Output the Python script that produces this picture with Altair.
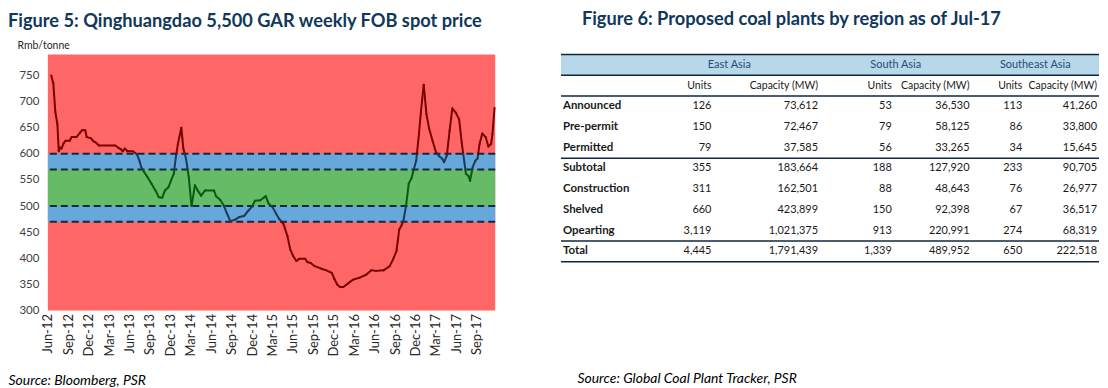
import json
import altair as alt
import pandas as pd

# ---------------- Figure 5 data ----------------
# x: months since Jun-2012 (weekly series sampled), y: Rmb/tonne
months = [0.5, 0.8, 1.1, 1.4, 1.6, 1.8, 2.0, 2.3, 2.6, 3.2, 3.5, 4.2, 4.7, 5.0, 5.5, 5.7,
          6.3, 6.7, 7.0, 7.5, 9.9, 10.3, 10.7, 11.0, 11.3, 11.7, 12.5, 13.1, 13.5, 13.7,
          14.1, 14.6, 15.2, 15.8, 16.3, 16.8, 17.2, 17.7, 18.1, 18.5, 18.8, 19.1, 19.6,
          19.9, 20.3, 20.7, 21.1, 21.6, 22.0, 22.5, 23.1, 24.4, 24.7, 25.3, 25.8, 26.3,
          26.8, 27.5, 28.1, 28.8, 29.5, 30.0, 30.4, 31.2, 31.7, 32.0, 32.4, 33.0, 33.5,
          34.0, 34.6, 35.2, 35.6, 36.0, 36.5, 36.9, 37.8, 38.1, 38.6, 39.2, 40.2, 40.9,
          41.7, 42.1, 42.5, 42.9, 43.4, 44.1, 44.8, 45.8, 46.8, 47.5, 48.2, 49.3, 50.2,
          50.7, 51.2, 51.6, 51.9, 52.2, 52.6, 53.0, 53.4, 53.7, 54.1, 54.5, 54.8, 55.2,
          55.6, 56.0, 56.5, 57.0, 57.5, 57.9, 58.2, 58.6, 59.0, 59.4, 59.9, 60.4, 60.8,
          61.0, 61.4, 61.8, 62.0, 62.4, 62.8, 63.1, 63.4, 63.8, 64.3, 64.7, 65.1, 65.3, 65.6]
price = [750, 735, 680, 657, 605, 612, 610, 620, 625, 625, 632, 632, 640, 645, 645, 632,
         630, 624, 622, 616, 616, 612, 609, 605, 610, 605, 605, 599, 585, 575,
         566, 556, 543, 530, 517, 516, 530, 536, 549, 562, 594, 619, 650,
         610, 590, 555, 500, 540, 530, 520, 530, 530, 519, 512, 502, 486,
         471, 474, 479, 481, 492, 499, 510, 511, 516, 519, 505, 498, 486,
         475, 466, 442, 417, 405, 395, 399, 399, 393, 391, 385, 380, 377,
         372, 360, 350, 345, 345, 352, 359, 363, 369, 377, 376, 377, 385,
         398, 414, 455, 462, 471, 500, 543, 553, 568, 587, 638, 682, 732,
         676, 648, 625, 603, 595, 591, 584, 597, 644, 687, 679, 666, 619,
         600, 562, 557, 548, 575, 587, 591, 619, 639, 632, 614, 619, 638, 688]

x_tick_labels = ["Jun-12", "Sep-12", "Dec-12", "Mar-13", "Jun-13", "Sep-13", "Dec-13",
                 "Mar-14", "Jun-14", "Sep-14", "Dec-14", "Mar-15", "Jun-15", "Sep-15",
                 "Dec-15", "Mar-16", "Jun-16", "Sep-16", "Dec-16", "Mar-17", "Jun-17", "Sep-17"]
y_ticks = [300, 350, 400, 450, 500, 550, 600, 650, 700, 750]

band_low = [300, 470, 500, 570]
band_high = [790, 500, 570, 600]
band_zone = ["outside", "edge", "core", "edge"]
thresholds = [470, 500, 570, 600]

# ---------------- Figure 6 data ----------------
regions = ["East Asia", "South Asia", "Southeast Asia"]
sub_headers = ["Units", "Capacity (MW)"]
row_labels = ["Announced", "Pre-permit", "Permitted", "Subtotal", "Construction",
              "Shelved", "Opearting", "Total"]
ea_units = [126, 150, 79, 355, 311, 660, 3119, 4445]
ea_cap = [73612, 72467, 37585, 183664, 162501, 423899, 1021375, 1791439]
sa_units = [53, 79, 56, 188, 88, 150, 913, 1339]
sa_cap = [36530, 58125, 33265, 127920, 48643, 92398, 220991, 489952]
sea_units = [113, 86, 34, 233, 76, 67, 274, 650]
sea_cap = [41260, 33800, 15645, 90705, 26977, 36517, 68319, 222518]
section_ends = ["Permitted", "Opearting", "Total"]

FONT = "Lato"
NAVY = "#10375C"

# ================= Figure 5 =================
def zone(v):
    if 500 <= v <= 570:
        return "core"
    if 470 <= v <= 600:
        return "edge"
    return "outside"

seg_rows = []
pts_all = list(zip(months, price))
for (m0, v0), (m1, v1) in zip(pts_all, pts_all[1:]):
    lo, hi = min(v0, v1), max(v0, v1)
    cuts = sorted([t for t in thresholds if lo < t < hi], reverse=(v1 < v0))
    pts = [(m0, v0)] + [(m0 + (t - v0) / (v1 - v0) * (m1 - m0), t) for t in cuts] + [(m1, v1)]
    for a, b in zip(pts, pts[1:]):
        seg_rows.append(dict(m=a[0], v=a[1], m2=b[0], v2=b[1], zone=zone((a[1] + b[1]) / 2)))
seg_df = pd.DataFrame(seg_rows)
band_df = pd.DataFrame(dict(lo=band_low, hi=band_high, zone=band_zone))
thr_df = pd.DataFrame(dict(t=thresholds))

xs = alt.Scale(domain=[0, 65.7], nice=False, zero=False)
ys = alt.Scale(domain=[300, 790], nice=False, zero=False)

x_axis = alt.Axis(
    values=list(range(0, 3 * len(x_tick_labels), 3)),
    labelExpr=f"{json.dumps(x_tick_labels)}[round(datum.value / 3)]",
    labelAngle=-90, labelFontSize=13, labelFont=FONT, labelColor="#262626",
    labelPadding=3, ticks=False, domain=False, grid=False,
    labelFlush=False, labelOverlap=False,
    title="Source: Bloomberg, PSR", titleFont=FONT, titleFontStyle="italic",
    titleFontWeight="normal", titleFontSize=14, titleColor="#000000",
    titleAnchor="start", titleAlign="left", titleBaseline="alphabetic",
    titleX=-40, titleY=74,
)
y_axis = alt.Axis(
    values=y_ticks, labelFontSize=11.5, labelFont=FONT, labelColor="#404040",
    labelPadding=9, ticks=False, domain=False, grid=False,
    title="Rmb/tonne", titleAngle=0, titleAlign="left", titleBaseline="middle",
    titleX=-31, titleY=-9, titleFontSize=10.5, titleFontWeight="normal",
    titleFont=FONT, titleColor="#262626",
)

bands = alt.Chart(band_df).mark_rect().encode(
    y=alt.Y("lo:Q", scale=ys, axis=y_axis),
    y2="hi:Q",
    fill=alt.Fill("zone:N", scale=alt.Scale(domain=["outside", "edge", "core"],
                                            range=["#FF6666", "#66A8DA", "#66BB66"]),
                  legend=None),
)
dashes = alt.Chart(thr_df).mark_rule(color="#0F2A47", strokeWidth=2, strokeDash=[7, 4]).encode(
    y=alt.Y("t:Q", scale=ys, axis=y_axis),
)
line = alt.Chart(seg_df).mark_rule(strokeWidth=2, strokeCap="round").encode(
    x=alt.X("m:Q", scale=xs, axis=x_axis),
    x2="m2:Q",
    y=alt.Y("v:Q", scale=ys, axis=y_axis),
    y2="v2:Q",
    stroke=alt.Stroke("zone:N", scale=alt.Scale(domain=["outside", "edge", "core"],
                                                range=["#7A0000", "#1B3A5C", "#0B5A12"]),
                      legend=None),
)

left = alt.layer(bands, dashes, line).properties(
    width=449, height=257,
    title=alt.TitleParams("Figure 5: Qinghuangdao 5,500 GAR weekly FOB spot price",
                          anchor="start", frame="group", dx=-40, font=FONT, fontSize=18.3,
                          fontWeight="bold", color=NAVY, offset=9, baseline="top"),
)

# ================= Figure 6 (table) =================
col_pos = [0, 2, 151, 169, 258, 332, 336, 410, 463, 476, 538, 540]
LEFT, LABEL, RIGHT = 0, 1, 11
region_cols = [(2, 3, 4), (5, 6, 7), (8, 9, 10)]
HEAD_ROW, SUB_ROW, FIRST_ROW = 0, 1, 2

tx = alt.Scale(domain=list(range(len(col_pos))), range=col_pos, nice=False, zero=False)
ty = alt.Scale(domain=[-0.5, FIRST_ROW + len(row_labels) - 0.5], reverse=True, nice=False, zero=False)
tx_axis = alt.Axis(
    labels=False, ticks=False, domain=False, grid=False,
    title="Source: Global Coal Plant Tracker, PSR", titleFont=FONT,
    titleFontStyle="italic", titleFontWeight="normal", titleFontSize=14,
    titleColor="#000000", titleAnchor="start", titleAlign="left",
    titleBaseline="alphabetic", titleX=16, titleY=121,
)

band_hdr = pd.DataFrame(dict(c=[LEFT], c2=[RIGHT], r=[HEAD_ROW - 0.5], r2=[HEAD_ROW + 0.5]))
rule_rows = [HEAD_ROW - 0.5, HEAD_ROW + 0.5, SUB_ROW + 0.5] + \
            [FIRST_ROW + row_labels.index(s) + 0.5 for s in section_ends]
rules_df = pd.DataFrame(dict(r=rule_rows, c=[LEFT] * len(rule_rows), c2=[RIGHT] * len(rule_rows)))

reg_df = pd.DataFrame(dict(text=regions, c=[rc[1] for rc in region_cols], r=[HEAD_ROW] * 3))
sub_rows = []
for uc, hc, cc in region_cols:
    sub_rows.append(dict(text=sub_headers[0], c=uc, r=SUB_ROW))
    sub_rows.append(dict(text=sub_headers[1], c=cc, r=SUB_ROW))
sub_df = pd.DataFrame(sub_rows)
lab_df = pd.DataFrame(dict(text=row_labels, c=[LABEL] * len(row_labels),
                           r=[FIRST_ROW + i for i in range(len(row_labels))]))
num_rows = []
for (uc, hc, cc), units, caps in zip(region_cols, [ea_units, sa_units, sea_units],
                                     [ea_cap, sa_cap, sea_cap]):
    for i, (u, cp) in enumerate(zip(units, caps)):
        num_rows.append(dict(val=u, c=uc, r=FIRST_ROW + i))
        num_rows.append(dict(val=cp, c=cc, r=FIRST_ROW + i))
num_df = pd.DataFrame(num_rows)

def X(field="c:Q"):
    return alt.X(field, scale=tx, axis=tx_axis)

def Y(field="r:Q"):
    return alt.Y(field, scale=ty, axis=None)

t_band = alt.Chart(band_hdr).mark_rect(fill="#B8D7E9").encode(x=X(), x2="c2:Q", y=Y(), y2="r2:Q")
t_rules = alt.Chart(rules_df).mark_rule(color="#0E2841", strokeWidth=1.5).encode(x=X(), x2="c2:Q", y=Y())
t_reg = alt.Chart(reg_df).mark_text(align="center", baseline="middle", font=FONT, fontSize=11,
                                    color="#1F4E79").encode(x=X(), y=Y(), text="text:N")
t_sub = alt.Chart(sub_df).mark_text(align="right", baseline="middle", font=FONT, fontSize=10.5,
                                    color="#1a1a1a").encode(x=X(), y=Y(), text="text:N")
t_lab = alt.Chart(lab_df).mark_text(align="left", baseline="middle", font=FONT, fontSize=11.5,
                                    fontWeight="bold", color="#1a1a1a").encode(x=X(), y=Y(), text="text:N")
t_num = alt.Chart(num_df).mark_text(align="right", baseline="middle", font=FONT, fontSize=11,
                                    color="#1a1a1a").encode(x=X(), y=Y(),
                                                            text=alt.Text("val:Q", format=","))

right = alt.layer(t_band, t_rules, t_reg, t_sub, t_lab, t_num).properties(
    width=540, height=208,
    title=alt.TitleParams("Figure 6: Proposed coal plants by region as of Jul-17",
                          anchor="start", frame="group", dx=21, font=FONT, fontSize=18.3,
                          fontWeight="bold", color=NAVY, offset=25, baseline="top"),
)

chart = alt.hconcat(left, right, spacing=64).properties(padding=0).configure_view(stroke=None)
chart.save("out.html", embed_options={"renderer": "svg", "actions": False})
